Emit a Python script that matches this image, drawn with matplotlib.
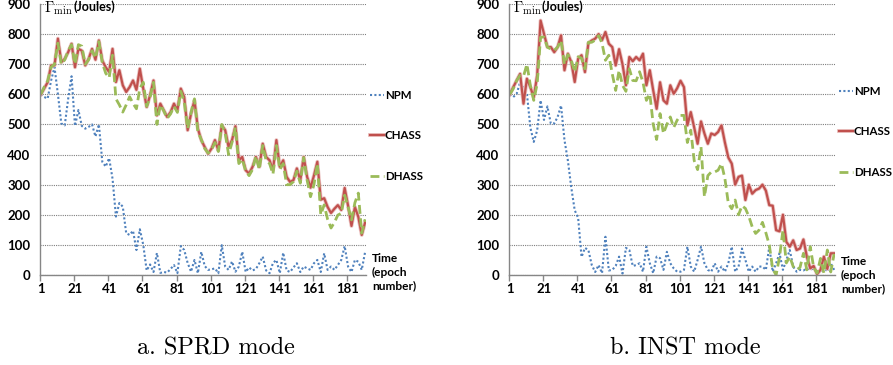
import matplotlib
matplotlib.use("Agg")
import matplotlib.pyplot as plt
import matplotlib.patheffects as pe
import numpy as np

# epochs (category positions), one reading every 2 epochs
epochs = np.arange(1, 192, 2)
tick_labels = [1, 21, 41, 61, 81, 101, 121, 141, 161, 181]
y_ticks = [0, 100, 200, 300, 400, 500, 600, 700, 800, 900]

# a. SPRD mode
sprd_npm = [600, 591, 586, 646, 690, 600, 503, 497, 585, 660,
            495, 548, 495, 486, 492, 500, 460, 500, 376, 360,
            388, 320, 194, 239, 227, 139, 133, 147, 83, 152,
            100, 15, 35, 10, 73, 7, 10, 8, 20, 33,
            6, 96, 83, 40, 11, 50, 6, 77, 30, 17,
            19, 22, 6, 99, 28, 17, 45, 11, 28, 77,
            10, 25, 15, 20, 39, 61, 15, 6, 40, 50,
            6, 74, 15, 10, 25, 39, 10, 28, 22, 17,
            39, 50, 10, 72, 17, 28, 17, 33, 50, 96,
            28, 10, 50, 44, 17, 77]
sprd_chass = [600, 620, 640, 696, 696, 785, 707, 718, 740, 768,
              690, 751, 745, 696, 718, 751, 715, 779, 712, 690,
              674, 751, 641, 680, 630, 608, 624, 646, 615, 685,
              619, 558, 597, 646, 530, 569, 547, 525, 541, 569,
              547, 619, 591, 481, 536, 580, 486, 448, 425, 403,
              420, 448, 414, 497, 481, 425, 448, 494, 381, 392,
              348, 337, 359, 392, 359, 436, 392, 381, 348, 448,
              359, 381, 326, 309, 315, 354, 315, 392, 326, 290,
              330, 376, 250, 255, 226, 206, 220, 232, 216, 289,
              230, 163, 226, 193, 133, 175]
sprd_dhass = [600, 625, 645, 690, 700, 770, 700, 715, 745, 765,
              700, 765, 760, 700, 715, 745, 720, 775, 705, 670,
              655, 730, 585, 565, 541, 565, 592, 570, 552, 620,
              640, 560, 590, 640, 500, 565, 545, 520, 535, 560,
              540, 610, 575, 486, 540, 585, 475, 450, 420, 405,
              415, 440, 410, 500, 470, 400, 440, 490, 370, 385,
              345, 330, 350, 395, 350, 430, 380, 370, 335, 430,
              350, 370, 300, 300, 310, 345, 305, 390, 315, 260,
              300, 370, 200, 233, 185, 156, 175, 199, 205, 265,
              226, 183, 240, 272, 139, 185]

# b. INST mode
inst_npm = [600, 591, 602, 640, 630, 602, 490, 442, 480, 580,
            515, 560, 503, 503, 525, 563, 448, 380, 290, 215,
            190, 60, 90, 83, 33, 10, 33, 6, 127, 15,
            17, 30, 61, 5, 90, 83, 30, 33, 39, 11,
            94, 39, 6, 61, 56, 17, 77, 39, 22, 11,
            11, 17, 94, 28, 11, 50, 94, 39, 17, 11,
            39, 11, 28, 11, 39, 94, 11, 28, 88, 50,
            11, 28, 11, 28, 28, 17, 94, 11, 39, 72,
            17, 50, 83, 28, 11, 17, 15, 22, 17, 22,
            11, 6, 28, 11, 39, 17]
inst_chass = [600, 624, 646, 668, 569, 652, 624, 590, 663, 845,
              801, 757, 757, 740, 757, 796, 680, 735, 707, 641,
              718, 730, 674, 770, 779, 785, 800, 780, 807, 768,
              757, 696, 750, 700, 630, 724, 710, 724, 713, 735,
              630, 680, 613, 552, 640, 580, 569, 630, 602, 620,
              645, 624, 497, 541, 490, 436, 510, 470, 436, 470,
              465, 475, 497, 440, 390, 370, 300, 326, 330, 249,
              300, 270, 282, 287, 300, 280, 232, 230, 149, 145,
              200, 110, 94, 115, 83, 88, 118, 61, 22, 30,
              3, 17, 61, 20, 72, 72]
inst_dhass = [600, 619, 646, 663, 660, 700, 630, 580, 635, 790,
              790, 757, 750, 746, 757, 779, 700, 732, 713, 674,
              725, 720, 685, 773, 773, 780, 795, 770, 713, 730,
              668, 613, 680, 630, 610, 685, 646, 645, 675, 640,
              580, 602, 500, 450, 536, 470, 500, 525, 490, 514,
              530, 530, 440, 481, 380, 350, 425, 260, 330, 342,
              342, 348, 370, 320, 238, 220, 249, 200, 230, 221,
              195, 160, 138, 149, 175, 140, 100, 20, 0, 60,
              149, 40, 61, 28, 17, 25, 72, 17, 94, 25,
              6, 55, 6, 83, 10, 70]

BLUE = "#4F81BD"
RED = "#C0504D"
GREEN = "#9BBB59"
GRID = "#7F7F7F"
SANS = "Lato"

W, H = 893, 365
fig = plt.figure(figsize=(W / 100, H / 100), dpi=100)


def draw_panel(left_px, npm, chass, dhass, legend_y, time_y, caption):
    ax = fig.add_axes([left_px / W, 1 - 275 / H, 326 / W, 271 / H])
    ax.plot(epochs, npm, color=BLUE, lw=1.5, linestyle=(0, (1, 1.1)), label="NPM")
    ax.plot(epochs, chass, color=RED, lw=1.6, label="CHASS",
            path_effects=[pe.Stroke(linewidth=2.8, foreground="#EBC3C2"), pe.Normal()])
    ax.plot(epochs, dhass, color=GREEN, lw=2.0, linestyle=(0, (3.2, 1.6)), label="DHASS")

    ax.set_xlim(0.5, 191.5)
    ax.set_ylim(0, 900)
    ax.set_yticks(y_ticks)
    ax.set_xticks(tick_labels)
    ax.set_xticks(np.arange(0.5, 181, 20), minor=True)
    ax.tick_params(axis="x", which="major", length=0, pad=6)
    ax.tick_params(axis="x", which="minor", length=4, color="#868686", width=1)
    ax.tick_params(axis="y", length=0, pad=7)
    for lab in ax.get_xticklabels() + ax.get_yticklabels():
        lab.set_fontfamily(SANS)
        lab.set_fontweight("bold")
        lab.set_fontsize(9.5)
    ax.yaxis.grid(True, color=GRID, lw=0.8, linestyle=(0, (1, 1)))
    ax.set_axisbelow(True)
    for s in ["top", "right"]:
        ax.spines[s].set_visible(False)
    for s in ["left", "bottom"]:
        ax.spines[s].set_color("#868686")
        ax.spines[s].set_linewidth(1)

    right_px = left_px + 326
    fig.legend(handles=ax.get_lines(), loc="upper left",
               bbox_to_anchor=((right_px + 4) / W, 1 - legend_y / H),
               frameon=False, borderpad=0, borderaxespad=0,
               handlelength=1.2, handletextpad=0.1, labelspacing=2.55,
               prop={"family": SANS, "weight": "bold", "size": 8.3})
    fig.text((right_px + 6) / W, 1 - time_y / H, "Time\n(epoch\nnumber)",
             family=SANS, weight="bold", size=8.6, va="top", ha="left",
             linespacing=1.3)
    fig.text((left_px + 4) / W, 1 - 8 / H, r"$\Gamma_{\rm min}$", size=10.5,
             va="center", ha="left")
    fig.text((left_px + 33) / W, 1 - 7 / H, "(Joules)", family=SANS,
             weight="bold", size=9, va="center", ha="left")
    fig.text((left_px + 176) / W, 1 - 348 / H, caption, family="cmr10",
             size=17.5, va="center", ha="center")
    return ax


plt.rcParams["mathtext.fontset"] = "cm"
draw_panel(40, sprd_npm, sprd_chass, sprd_dhass, 90, 253, "a. SPRD mode")
draw_panel(509, inst_npm, inst_chass, inst_dhass, 86, 256, "b. INST mode")

fig.savefig("out.png", dpi=100)
